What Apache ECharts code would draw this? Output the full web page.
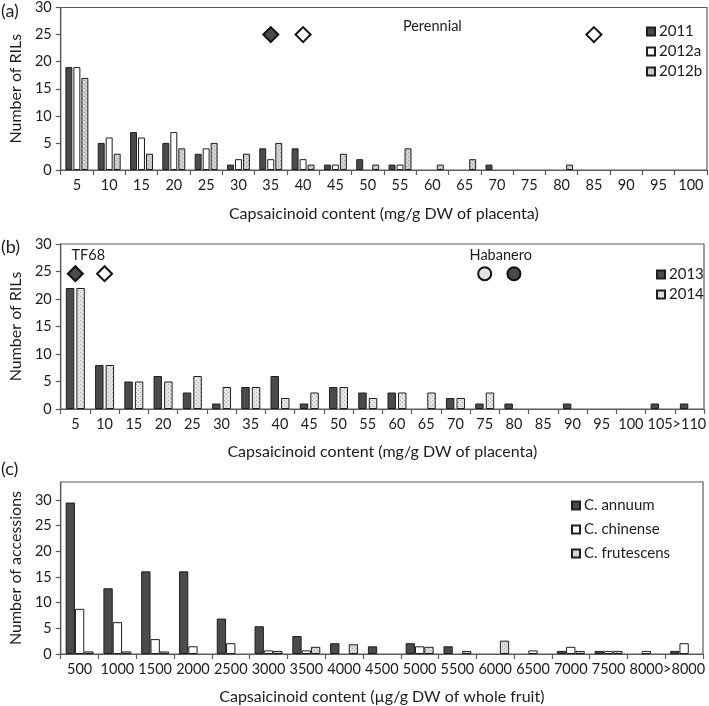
<!DOCTYPE html>
<html><head><meta charset="utf-8">
<script src="https://cdn.jsdelivr.net/npm/echarts@6/dist/echarts.min.js"></script>
<style>html,body{margin:0;padding:0;background:#fff}#c{width:709px;height:706px}</style>
</head><body><div id="c"></div>
<script>
// ---------- data ----------
const catsA = ['5','10','15','20','25','30','35','40','45','50','55','60','65','70','75','80','85','90','95','100'];
const s2011  = [19,5,7,5,3,1,4,4,1,2,1,0,0,1,0,0,0,0,0,0];
const s2012a = [19,6,6,7,4,2,2,2,1,0,1,0,0,0,0,0,0,0,0,0];
const s2012b = [17,3,3,4,5,3,5,1,3,1,4,1,2,0,0,1,0,0,0,0];
const markA_dark  = [['35',25]];
const markA_white = [['40',25],['85',25]];
const annotA = [['60',26.6,'Perennial']];

const catsB = ['5','10','15','20','25','30','35','40','45','50','55','60','65','70','75','80','85','90','95','100','105','>110'];
const s2013 = [22,8,5,6,3,1,4,6,1,4,3,3,0,2,1,1,0,1,0,0,1,1];
const s2014 = [22,8,5,5,6,4,4,2,3,4,2,3,3,2,3,0,0,0,0,0,0,0];
const markB_diamondDark  = [['5',24.6]];
const markB_diamondWhite = [['10',24.6]];
const markB_circleLight  = [['75',24.6]];
const markB_circleDark   = [['80',24.6]];
const annotB = [['5',27.9,'TF68'],['75',27.9,'Habanero']];

const catsC = ['500','1000','1500','2000','2500','3000','3500','4000','4500','5000','5500','6000','6500','7000','7500','8000','>8000'];
const annuum     = [29.5,12.8,16.1,16.1,6.9,5.4,3.5,2.1,1.5,2.1,1.5,0,0,0.6,0.6,0,0.6];
const chinense   = [8.8,6.2,2.9,1.5,2.1,0.7,0.7,0,0,1.5,0,0,0.7,1.4,0.6,0.6,2.1];
const frutescens = [0.5,0.5,0.5,0,0,0.6,1.4,1.9,0,1.4,0.6,2.6,0,0.6,0.6,0,0];
const yTicksC = [0,5,10,15,20,25,30];

// ---------- styles ----------
const FONT = 'Lato';
const TXT = '#1c1c1c';
const AX = '#5a5a5a';
const DARK = '#4b4b4b';
const TICK_FS = 14.5, TITLE_FS = 16;
function dots(bg, dot){
  const c = document.createElement('canvas'); c.width = 4; c.height = 4;
  const g = c.getContext('2d'); g.fillStyle = bg; g.fillRect(0,0,4,4);
  g.fillStyle = dot; g.fillRect(0,0,1,1); g.fillRect(2,2,1,1);
  return {image: c, repeat: 'repeat'};
}
const grids = [
  {left:55, right:2, top:5, height:165},
  {left:55, right:2, top:244, height:165},
  {left:55, right:6, top:482, height:178}
];
function xAx(i, cats, title, titleGap){
  return {type:'category', gridIndex:i, data:cats, boundaryGap:true,
    axisLine:{lineStyle:{color:AX, width:1.2}},
    axisTick:{show:true, length:5, lineStyle:{color:AX, width:1.2}},
    axisLabel:{interval:0, color:TXT, fontFamily:FONT, fontSize:TICK_FS, margin:8},
    name:title, nameLocation:'middle', nameGap:titleGap,
    nameTextStyle:{color:TXT, fontFamily:FONT, fontSize:TITLE_FS}};
}
function yAx(i, max, title, extra){
  return Object.assign({type:'value', gridIndex:i, min:0, max:max, interval:5,
    splitLine:{show:false},
    axisLine:{show:true, lineStyle:{color:AX, width:1.2}},
    axisTick:{show:true, length:5, lineStyle:{color:AX, width:1.2}},
    axisLabel:{color:TXT, fontFamily:FONT, fontSize:TICK_FS, margin:9},
    name:title, nameLocation:'middle', nameGap:34,
    nameTextStyle:{color:TXT, fontFamily:FONT, fontSize:TITLE_FS}}, extra||{});
}
function bar(name, data, xi, color, opts){
  return Object.assign({type:'bar', name:name, data:data.map(v => v === 0 ? '-' : v), xAxisIndex:xi, yAxisIndex:xi,
    itemStyle:{color:color, borderColor:'#1e1e1e', borderWidth:1},
    emphasis:{disabled:true}, animation:false}, opts||{});
}
function marks(data, xi, symbol, fill, size){
  return {type:'scatter', data:data, xAxisIndex:xi, yAxisIndex:xi, symbol:symbol, symbolSize:size,
    itemStyle:{color:fill, borderColor:'#111', borderWidth:2, opacity:1}, z:5, animation:false, silent:true};
}
function annot(data, xi){
  return {type:'scatter', data:data.map(d=>({value:[d[0],d[1]], label:{formatter:d[2]}})),
    xAxisIndex:xi, yAxisIndex:xi, symbolSize:0, silent:true, animation:false,
    itemStyle:{opacity:1},
    label:{show:true, position:'inside', color:TXT, opacity:1, fontFamily:FONT, fontSize:TICK_FS}};
}
function legend(names, left, top, gap){
  return {data:names, orient:'vertical', left:left, top:top, itemWidth:8, itemHeight:8, itemGap:gap,
    icon:'rect', selectedMode:false,
    textStyle:{color:TXT, fontFamily:FONT, fontSize:15, padding:[0,0,0,-1]}};
}

const annB = annot(annotB, 1);
annB.data[0].label.offset = [13,0];
annB.data[1].label.offset = [16,0];

const option = {
  backgroundColor:'#fff',
  grid: grids.map(g=>Object.assign({show:true, borderColor:AX, borderWidth:1.2, backgroundColor:'transparent'}, g)),
  xAxis:[
    xAx(0, catsA, 'Capsaicinoid content (mg/g DW of placenta)', 36),
    xAx(1, catsB, 'Capsaicinoid content (mg/g DW of placenta)', 35),
    xAx(2, catsC, 'Capsaicinoid content (\u00b5g/g DW of whole fruit)', 35)
  ],
  yAxis:[
    yAx(0, 30, 'Number of RILs'),
    yAx(1, 30, 'Number of RILs'),
    yAx(2, 33.5, 'Number of accessions', {
      axisLabel:{color:TXT, fontFamily:FONT, fontSize:TICK_FS, margin:9, customValues:yTicksC},
      axisTick:{show:true, length:5, lineStyle:{color:AX, width:1.2}, customValues:yTicksC}
    })
  ],
  legend:[
    legend(['2011','2012a','2012b'], 641, 19, 5),
    legend(['2013','2014'], 651, 262, 5),
    legend(['C. annuum','C. chinense','C. frutescens'], 566, 493, 9)
  ],
  graphic:[
    {type:'text', left:1, top:2, style:{text:'(a)', font:'18px Lato', fill:TXT}},
    {type:'text', left:1, top:238, style:{text:'(b)', font:'18px Lato', fill:TXT}},
    {type:'text', left:1, top:460, style:{text:'(c)', font:'18px Lato', fill:TXT}}
  ],
  series:[
    bar('2011', s2011, 0, DARK, {barGap:'15%', barCategoryGap:'29%'}),
    bar('2012a', s2012a, 0, '#ffffff'),
    bar('2012b', s2012b, 0, dots('#d2d2d2','#9a9a9a')),
    marks(markA_dark, 0, 'diamond', DARK, 15),
    marks(markA_white, 0, 'diamond', '#ffffff', 15),
    annot(annotA, 0),
    bar('2013', s2013, 1, DARK, {barGap:'25%', barCategoryGap:'35%'}),
    bar('2014', s2014, 1, dots('#e4e4e4','#b0b0b0')),
    marks(markB_diamondDark, 1, 'diamond', DARK, 15),
    marks(markB_diamondWhite, 1, 'diamond', '#ffffff', 15),
    marks(markB_circleLight, 1, 'circle', '#e2e2e2', 13),
    marks(markB_circleDark, 1, 'circle', DARK, 13),
    annB,
    bar('C. annuum', annuum, 2, DARK, {barGap:'0%', barCategoryGap:'26%'}),
    bar('C. chinense', chinense, 2, '#ffffff'),
    bar('C. frutescens', frutescens, 2, dots('#dcdcdc','#a8a8a8'))
  ]
};
const chart = echarts.init(document.getElementById('c'), null, {renderer:'canvas'});
chart.setOption(option);
</script>
</body></html>
